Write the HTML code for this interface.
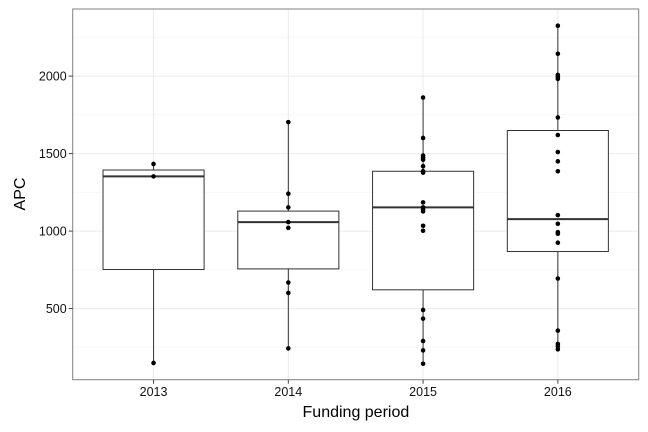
<!DOCTYPE html>
<html><head><meta charset="utf-8"><style>
body{margin:0;background:#fff}
svg{display:block;font-family:"Liberation Sans",sans-serif}
</style></head><body>
<svg id="chart" width="648" height="432" viewBox="0 0 648 432" xmlns="http://www.w3.org/2000/svg">
<rect width="648" height="432" fill="#fff"/>
<g id="grid"></g>
<g id="marks"></g>
<rect x="72.7" y="9" width="566" height="370.7" fill="none" stroke="#8c8c8c" stroke-width="1.1"/>
<g id="axes"></g>
<text x="0" y="0" transform="translate(25,194) rotate(-90)" text-anchor="middle" font-size="16" fill="#000">APC</text>
<text x="355.9" y="417" text-anchor="middle" font-size="16" fill="#000">Funding period</text>
</svg>
<script>
const categories=["2013","2014","2015","2016"];
const q1=[752,756,621,868];
const medians=[1353,1058,1153,1077];
const q3=[1394,1129,1386,1649];
const whiskerLo=[149,243,144,237];
const whiskerHi=[1433,1703,1862,2325];
const points2013=[1433,1353,149];
const points2014=[1703,1241,1153,1058,1021,668,601,243];
const points2015=[1862,1601,1487,1474,1461,1418,1386,1377,1185,1153,1140,1127,1034,1002,491,435,291,230,144];
const points2016=[2325,2144,2008,1995,1982,1733,1620,1510,1450,1386,1103,1047,993,983,925,694,358,272,256,237];
const yTicks=[500,1000,1500,2000];
const yMinor=[250,750,1250,1750,2250];
const allPoints=[points2013,points2014,points2015,points2016];

const NS="http://www.w3.org/2000/svg";
const L=72.7,R=638.7,T=9,B=379.7;
const yMin=41,yMax=2433;
function y(v){return B-(v-yMin)/(yMax-yMin)*(B-T);}
function x(i){return L+(i+0.6)/(categories.length+0.2)*(R-L);}
const bw=0.75*(R-L)/(categories.length+0.2);
function mk(tag,attrs,parent){const e=document.createElementNS(NS,tag);for(const k in attrs)e.setAttribute(k,attrs[k]);parent.appendChild(e);return e;}
const grid=document.getElementById('grid'),marks=document.getElementById('marks'),axes=document.getElementById('axes');
mk('rect',{x:L,y:T,width:R-L,height:B-T,fill:'#fff'},grid);
yMinor.forEach(v=>{const l=mk('line',{x1:L,x2:R,y1:y(v),y2:y(v),stroke:'#f5f5f5','stroke-width':0.6},grid);

});
yTicks.forEach(v=>{const l=mk('line',{x1:L,x2:R,y1:y(v),y2:y(v),stroke:'#ebebeb','stroke-width':1},grid);


const t=mk('line',{x1:L-4,x2:L,y1:y(v),y2:y(v),stroke:'#444','stroke-width':1},axes);


const tx=mk('text',{x:L-6,y:y(v)+4.3,'text-anchor':'end','font-size':12.5,fill:'#111'},axes);
tx.textContent=v;

});
categories.forEach((c,i)=>{const cx=x(i);
const g=mk('line',{x1:cx,x2:cx,y1:T,y2:B,stroke:'#ebebeb','stroke-width':1},grid);


const t=mk('line',{x1:cx,x2:cx,y1:B,y2:B+4,stroke:'#444','stroke-width':1},axes);


const tx=mk('text',{x:cx,y:B+16.5,'text-anchor':'middle','font-size':12.5,fill:'#111'},axes);
tx.textContent=c;


const grp=mk('g',{},marks);


const w1=mk('line',{x1:cx,x2:cx,y1:y(whiskerHi[i]),y2:y(q3[i]),stroke:'#333','stroke-width':1},grp);


const w2=mk('line',{x1:cx,x2:cx,y1:y(q1[i]),y2:y(whiskerLo[i]),stroke:'#333','stroke-width':1},grp);


const b=mk('rect',{x:cx-bw/2,y:y(q3[i]),width:bw,height:y(q1[i])-y(q3[i]),fill:'#fff',stroke:'#333','stroke-width':1},grp);


const m=mk('line',{x1:cx-bw/2,x2:cx+bw/2,y1:y(medians[i]),y2:y(medians[i]),stroke:'#333','stroke-width':2},grp);


allPoints[i].forEach(v=>{const p=mk('circle',{cx:cx,cy:y(v),r:2.3,fill:'#000'},grp);

});
});
</script>
</body></html>
